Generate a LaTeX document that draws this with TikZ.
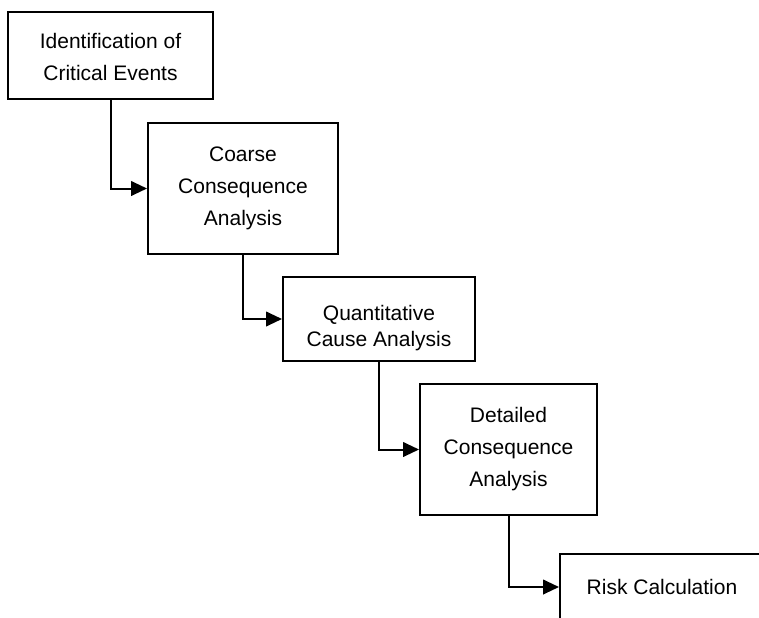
\documentclass[tikz,border=0pt]{standalone}
\usepackage{fontspec}
\setmainfont{Liberation Sans}
\usetikzlibrary{arrows.meta}
% centred block of lines, drawn #1 lower than its box
\newcommand{\lowlines}[2]{\raisebox{-#1}[\height][\depth]{\begin{tabular}{@{}c@{}}#2\end{tabular}}}
\begin{document}
\begin{tikzpicture}[x=0.75pt,y=-0.75pt,
  stepbox/.style={draw, line width=1.5pt, align=center, inner sep=0pt,
    font=\fontsize{15.75pt}{24pt}\selectfont},
  flow/.style={line width=1.5pt, -{Triangle[length=12pt,width=11pt]}}]
  \useasboundingbox (0,0) rectangle (759,617);
  \clip (0,0) rectangle (759,617);
  \node[stepbox, minimum width=205*0.75pt, minimum height=87*0.75pt] (b1) at (110.5,55.5)
    {\lowlines{2.3pt}{Identification of\\Critical Events}};
  \node[stepbox, minimum width=190*0.75pt, minimum height=131*0.75pt] (b2) at (243,188.5)
    {Coarse\\Consequence\\Analysis};
  \node[stepbox, minimum width=192*0.75pt, minimum height=84*0.75pt,
    font=\fontsize{15.75pt}{19.5pt}\selectfont] (b3) at (379,319)
    {\lowlines{7pt}{Quantitative\\Cause Analysis}};
  \node[stepbox, minimum width=177*0.75pt, minimum height=131*0.75pt] (b4) at (508.5,449.5)
    {Detailed\\Consequence\\Analysis};
  \node[stepbox, minimum width=204*0.75pt, minimum height=66*0.75pt] (b5) at (662,587)
    {Risk Calculation};
  \draw[flow] (b1.south) |- (b2.west);
  \draw[flow] (b2.south) |- (b3.west);
  \draw[flow] (b3.south) |- (b4.west);
  \draw[flow] (b4.south) |- (b5.west);
\end{tikzpicture}
\end{document}
